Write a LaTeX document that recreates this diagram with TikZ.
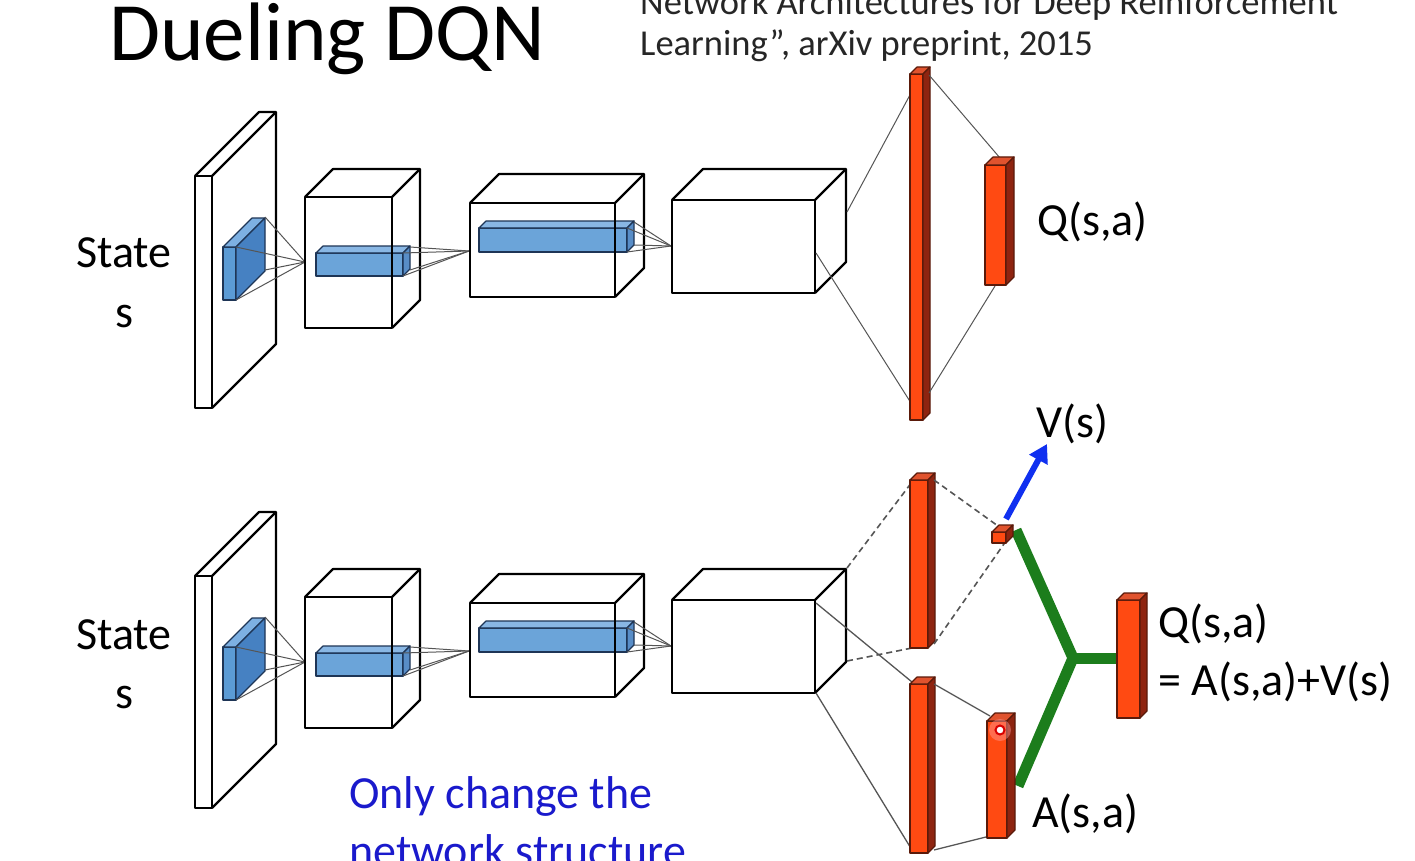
\documentclass[tikz,border=0pt]{standalone}
\usepackage{fontspec}
\setmainfont{Carlito}
\usetikzlibrary{arrows.meta}
\definecolor{redfront}{HTML}{FF4A12}
\definecolor{redside}{HTML}{8E2410}
\definecolor{redtop}{HTML}{E0532E}
\definecolor{rededge}{HTML}{5A1A0A}
\definecolor{bluefront}{HTML}{5B9BD5}
\definecolor{blueside}{HTML}{4681C2}
\definecolor{bluetop}{HTML}{7DB0E2}
\definecolor{blueedge}{HTML}{1E3556}
\definecolor{greenbar}{HTML}{1C7D1C}
\definecolor{arrowblue}{HTML}{1030F0}
\definecolor{textblue}{HTML}{1A1ACC}
\definecolor{conncol}{HTML}{555555}
\tikzset{
  boxline/.style={draw=black,line width=2.2pt,line join=round},
  conn/.style={draw=conncol,line width=1pt},
  dashconn/.style={draw=conncol,line width=1.6pt,dash pattern=on 6pt off 4pt},
  lbl/.style={inner sep=0pt,anchor=base west,font=\fontsize{46}{56}\selectfont},
  lblc/.style={inner sep=0pt,anchor=base,font=\fontsize{46}{56}\selectfont},
  greenline/.style={draw=greenbar,line width=11pt},
}
% white wire cuboid: x y w h d
\newcommand{\wfill}[5]{\fill[white] (#1,#2) -- ++(#5,-#5) -- ++(#3,0) -- ++(0,#4) -- ++(-#5,#5) -- ++(-#3,0) -- cycle;}
\newcommand{\wlines}[5]{%
  \draw[boxline] (#1,#2) rectangle ++(#3,#4);
  \draw[boxline] (#1,#2) -- ++(#5,-#5) -- ++(#3,0) -- ++(0,#4) -- ++(-#5,#5);
  \draw[boxline] (#1+#3,#2) -- ++(#5,-#5);}
% solid cuboid: x y w h d front top side edge
\newcommand{\solidcub}[9]{%
  \filldraw[fill=#6,draw=#9,line width=1.2pt,line join=round] (#1,#2) rectangle ++(#3,#4);
  \filldraw[fill=#7,draw=#9,line width=1.2pt,line join=round] (#1,#2) -- ++(#5,-#5) -- ++(#3,0) -- ++(-#5,#5) -- cycle;
  \filldraw[fill=#8,draw=#9,line width=1.2pt,line join=round] (#1+#3,#2) -- ++(#5,-#5) -- ++(0,#4) -- ++(-#5,#5) -- cycle;}
\newcommand{\bluecub}[5]{\solidcub{#1}{#2}{#3}{#4}{#5}{bluefront}{bluetop}{blueside}{blueedge}}
\newcommand{\redcub}[5]{\solidcub{#1}{#2}{#3}{#4}{#5}{redfront}{redtop}{redside}{rededge}}
% the convolutional part, drawn for one row
\newcommand{\convrow}{%
  % input plate
  \wfill{195}{176}{17}{232}{64}
  \wlines{195}{176}{17}{232}{64}
  \bluecub{223}{247}{13}{53}{29}
  \coordinate (c2) at (305,262);
  \coordinate (p1) at (265,217); \coordinate (p2) at (265,270);
  \coordinate (p3) at (236,247); \coordinate (p4) at (236,300);
  \foreach \p in {p1,p2,p3,p4} \draw[conn] (\p) -- (c2);
  % box 2
  \wfill{305}{197}{87}{131}{28}
  \begin{scope}[fill opacity=0.9]\bluecub{316}{253}{87}{23}{7}\end{scope}
  \wlines{305}{197}{87}{131}{28}
  \coordinate (c3) at (469,251);
  \coordinate (q1) at (410,247); \coordinate (q2) at (410,270);
  \coordinate (q3) at (403,253); \coordinate (q4) at (403,276);
  \foreach \p in {q1,q2,q3,q4} \draw[conn] (\p) -- (c3);
  % box 3
  \wfill{470}{203}{145}{94}{29}
  \begin{scope}[fill opacity=0.9]\bluecub{479}{228}{148}{24}{7}\end{scope}
  \wlines{470}{203}{145}{94}{29}
  \coordinate (c4) at (671,246);
  \coordinate (r1) at (634,222); \coordinate (r2) at (634,245);
  \coordinate (r3) at (627,228); \coordinate (r4) at (627,252);
  \foreach \p in {r1,r2,r3,r4} \draw[conn] (\p) -- (c4);
  % box 4
  \wfill{672}{200}{143}{93}{31}
  \wlines{672}{200}{143}{93}{31}
}
\begin{document}
\begin{tikzpicture}[x=1pt,y=-1pt]
\useasboundingbox (0,0) rectangle (1415,861);
\clip (0,0) rectangle (1415,861);
\fill[white] (0,0) rectangle (1415,861);

% titles
\node[inner sep=0pt,anchor=base west,font=\fontsize{83}{100}\selectfont] (title) at (109,61) {Dueling DQN};
\node[inner sep=0pt,anchor=base west,font=\fontsize{36.5}{44}\selectfont,text=black!85] (cite1) at (640,15) {Network Architectures for Deep Reinforcement};
\node[inner sep=0pt,anchor=base west,font=\fontsize{36.5}{44}\selectfont,text=black!85] (cite2) at (640,56) {Learning'', arXiv preprint, 2015};

% ---------------- top network ----------------
\convrow
\node[lblc] (state1) at (124,267) {State};
\node[lblc] (s1) at (124,327) {s};

\coordinate (b4a) at (847,212);
\coordinate (b4b) at (816,253);
\coordinate (fa) at (911,93);
\coordinate (fb) at (911,403);
\draw[conn] (b4a) -- (fa);
\draw[conn] (b4b) -- (fb);
\redcub{910}{74}{13}{346}{7}
\coordinate (fc) at (929,75);
\coordinate (fd) at (929,393);
\coordinate (qa) at (1000,158);
\coordinate (qb) at (995,286);
\draw[conn] (fc) -- (qa);
\draw[conn] (fd) -- (qb);
\redcub{985}{165}{21}{120}{8}
\node[lbl] (qsa1) at (1037,235) {Q(s,a)};

% ---------------- bottom network ----------------
\begin{scope}[yshift=-400pt]
\convrow
\end{scope}
\node[lblc] (state2) at (124,649) {State};
\node[lblc] (s2) at (124,708) {s};

% connections from box 4 (bottom)
\coordinate (d1) at (847,568);
\coordinate (d2) at (847,661);
\coordinate (d3) at (816,603);
\coordinate (d4) at (816,693);
\coordinate (ua) at (912,482);
\coordinate (ub) at (912,648);
\coordinate (la) at (912,682);
\coordinate (lb) at (912,850);
\draw[dashconn] (d1) -- (ua);
\draw[dashconn] (d2) -- (ub);
\draw[conn,line width=1.3pt] (d3) -- (la);
\draw[conn,line width=1.3pt] (d4) -- (lb);
\redcub{910}{480}{18}{168}{7}
\redcub{910}{684}{18}{169}{7}
\coordinate (uc) at (934,480);
\coordinate (ud) at (934,644);
\coordinate (ve1) at (998,526);
\coordinate (ve2) at (1006,541);
\draw[dashconn] (uc) -- (ve1);
\draw[dashconn] (ud) -- (ve2);
\coordinate (lc) at (934,684);
\coordinate (ld) at (934,850);
\coordinate (ae1) at (990,716);
\coordinate (ae2) at (990,836);
\draw[conn,line width=1.3pt] (lc) -- (ae1);
\draw[conn,line width=1.3pt] (ld) -- (ae2);

% green merge
\coordinate (junc) at (1073,658);
\coordinate (gv) at (1016,530);
\coordinate (ga) at (1018,786);
\coordinate (gq) at (1118,658);
\draw[greenline] (gv) -- (junc) -- (ga);
\draw[greenline] (junc) -- (gq);

\redcub{992}{532}{14}{11}{7}
\redcub{987}{721}{20}{117}{8}
\redcub{1117}{600}{23}{118}{7}

% laser pointer mark
\fill[red!40,opacity=0.45] (1000,730) circle (11pt);
\draw[red!85!black,line width=2pt,fill=white] (1000,730) circle (4.5pt);

% blue arrow to V(s)
\coordinate (va) at (1006,519);
\coordinate (vb) at (1047,444);
\draw[arrowblue,line width=6pt,-{Triangle[length=18pt,width=20pt]}] (va) -- (vb);

\node[lbl] (vs) at (1036,437) {V(s)};
\node[lbl] (qsa2) at (1158,637) {Q(s,a)};
\node[lbl] (eq) at (1158,695) {= A(s,a)+V(s)};
\node[lbl] (asa) at (1032,827) {A(s,a)};

\node[lbl,text=textblue] (note1) at (349,808) {Only change the};
\node[lbl,text=textblue] (note2) at (349,866) {network structure};
\end{tikzpicture}
\end{document}
